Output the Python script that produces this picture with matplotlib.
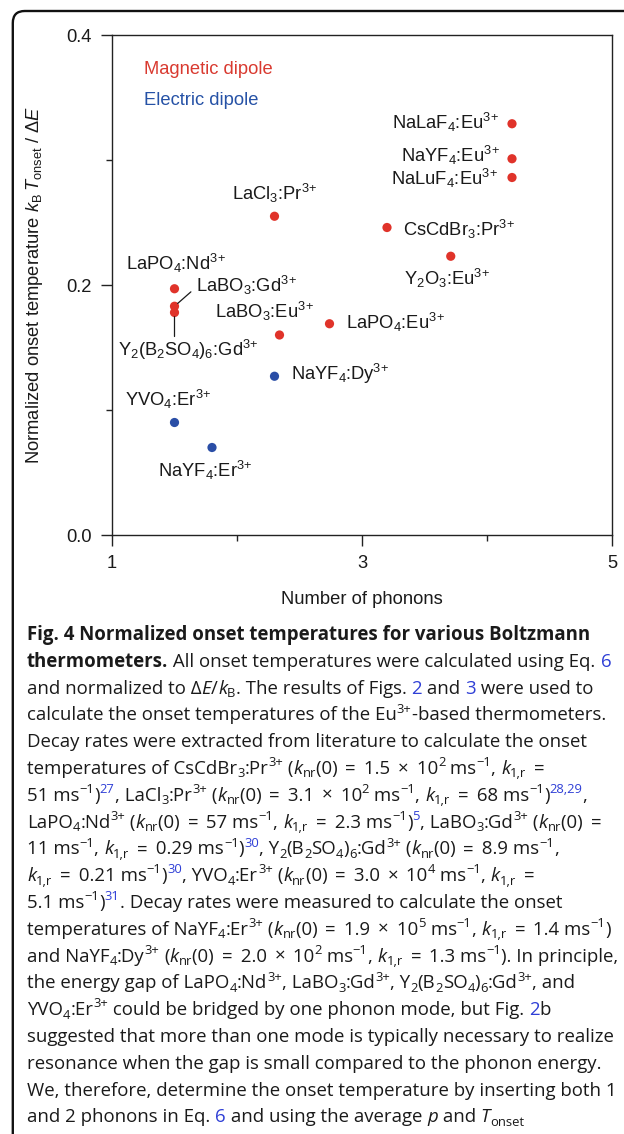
import re
import matplotlib
matplotlib.use("Agg")
import matplotlib.pyplot as plt
from matplotlib.font_manager import FontProperties
from matplotlib.patches import FancyBboxPatch

plt.rcParams['font.family'] = 'Liberation Sans'
plt.rcParams['mathtext.fontset'] = 'custom'
plt.rcParams['mathtext.rm'] = 'Liberation Sans'
plt.rcParams['mathtext.it'] = 'Liberation Sans:italic'
plt.rcParams['mathtext.bf'] = 'Liberation Sans:bold'

# --- data ---
labels = ['NaLaF$_4$:Eu$^{3\\!+}$', 'NaYF$_4$:Eu$^{3\\!+}$', 'NaLuF$_4$:Eu$^{3\\!+}$',
          'LaCl$_3$:Pr$^{3\\!+}$', 'CsCdBr$_3$:Pr$^{3\\!+}$', 'Y$_2$O$_3$:Eu$^{3\\!+}$',
          'LaPO$_4$:Nd$^{3\\!+}$', 'LaBO$_3$:Gd$^{3\\!+}$', 'Y$_2$(B$_2$SO$_4$)$_6$:Gd$^{3\\!+}$',
          'LaBO$_3$:Eu$^{3\\!+}$', 'LaPO$_4$:Eu$^{3\\!+}$', 'NaYF$_4$:Dy$^{3\\!+}$',
          'YVO$_4$:Er$^{3\\!+}$', 'NaYF$_4$:Er$^{3\\!+}$']
phonons = [4.2, 4.2, 4.2, 2.30, 3.20, 3.71, 1.5, 1.5, 1.5, 2.34, 2.74, 2.30, 1.5, 1.8]
onset = [0.329, 0.301, 0.286, 0.255, 0.246, 0.223, 0.197, 0.183, 0.178,
         0.160, 0.169, 0.127, 0.090, 0.070]
dipole = ['M'] * 11 + ['E'] * 3

xticks = [1, 3, 5]
yticks = [0.0, 0.2, 0.4]
ytick_labels = ['0.0', '0.2', '0.4']

# label placement (offset pixels from the point, horizontal alignment)
label_pos = [(-13, -5, 'right'), (-12, -3.5, 'right'), (-14, -7, 'right'),
             (-42, 16, 'left'), (16, -8.5, 'left'), (-47, -29, 'left'),
             (-49, 18.6, 'left'), (21.4, 14, 'left'), (-57, -43.3, 'left'),
             (-64.7, 16.7, 'left'), (16, -5.7, 'left'), (16.7, -4, 'left'),
             (-49.3, 16.7, 'left'), (-53.7, -29.4, 'left')]
# leader lines: point index -> end offset in pixels
leaders = {7: (16.4, 14.4), 8: (0, -24)}

RED = '#e0332a'
BLUE = '#2a4ea6'
colors = {'M': RED, 'E': BLUE}

W, H = 624, 1134
fig = plt.figure(figsize=(W / 100, H / 100), dpi=100)
ax = fig.add_axes([112 / W, 1 - 535 / H, 500 / W, 500 / H])

ax.scatter(phonons, onset, s=44, c=[colors[d] for d in dipole],
           edgecolors='none', zorder=3, clip_on=False)

fs = 13.2
for i, lab in enumerate(labels):
    dx, dy, ha = label_pos[i]
    ax.annotate(lab, (phonons[i], onset[i]), xytext=(dx, dy),
                textcoords='offset pixels', ha=ha, va='baseline',
                fontsize=fs, color='#1a1a1a')
for i, (dx, dy) in leaders.items():
    ax.annotate('', (phonons[i], onset[i]), xytext=(dx, dy),
                textcoords='offset pixels',
                arrowprops=dict(arrowstyle='-', lw=0.9, color='#1a1a1a',
                                shrinkA=0, shrinkB=3))

ax.text(0.064, 0.922, 'Magnetic dipole', transform=ax.transAxes,
        color='#d93a30', fontsize=fs, va='baseline')
ax.text(0.064, 0.860, 'Electric dipole', transform=ax.transAxes,
        color='#2652a6', fontsize=fs, va='baseline')

ax.set_xlim(1, 5)
ax.set_ylim(0, 0.4)
ax.set_xticks(xticks)
ax.set_xticks([2, 4], minor=True)
ax.set_yticks(yticks)
ax.set_yticklabels(ytick_labels)
ax.set_yticks([0.1, 0.3], minor=True)
ax.tick_params(which='both', direction='out', width=1.0, color='#222222',
               labelsize=fs, labelcolor='#1a1a1a', pad=7)
ax.tick_params(which='major', length=7.6)
ax.tick_params(which='minor', length=4)
for sp in ax.spines.values():
    sp.set_linewidth(1.0)
    sp.set_color('#222222')

ax.set_xlabel('Number of phonons', fontsize=fs, color='#1a1a1a', va='center')
ax.xaxis.set_label_coords(0.5, -0.128)
ax.set_ylabel(r'Normalized onset temperature $k_\mathrm{B}\,T_\mathrm{onset}$ / Δ$E$',
              fontsize=fs, color='#1a1a1a', va='center')
ax.yaxis.set_label_coords(-0.154, 0.5)

# frame round the panel
fig.add_artist(FancyBboxPatch((0.128, -1.0), 8.0, 12.23,
                              boxstyle='round,pad=0,rounding_size=0.12',
                              transform=fig.dpi_scale_trans, fill=False,
                              lw=1.7, ec='#111111', clip_on=False))

# --- caption ---
caption = [
    "{b:Fig. 4 Normalized onset temperatures for various Boltzmann}",
    "{b:thermometers.} All onset temperatures were calculated using Eq. {l:6}",
    "and normalized to Δ{i:E}/{i:k}{_:B}. The results of Figs. {l:2} and {l:3} were used to",
    "calculate the onset temperatures of the Eu{^:3+}-based thermometers.",
    "Decay rates were extracted from literature to calculate the onset",
    "temperatures of CsCdBr{_:3}:Pr{^:3+} ({i:k}{_:nr}(0) = 1.5 × 10{^:2} ms{^:−1}, {i:k}{_:1,r} =",
    "51 ms{^:−1}){L:27}, LaCl{_:3}:Pr{^:3+} ({i:k}{_:nr}(0) = 3.1 × 10{^:2} ms{^:−1}, {i:k}{_:1,r} = 68 ms{^:−1}){L:28,29},",
    "LaPO{_:4}:Nd{^:3+} ({i:k}{_:nr}(0) = 57 ms{^:−1}, {i:k}{_:1,r} = 2.3 ms{^:−1}){L:5}, LaBO{_:3}:Gd{^:3+} ({i:k}{_:nr}(0) =",
    "11 ms{^:−1}, {i:k}{_:1,r} = 0.29 ms{^:−1}){L:30}, Y{_:2}(B{_:2}SO{_:4}){_:6}:Gd{^:3+} ({i:k}{_:nr}(0) = 8.9 ms{^:−1},",
    "{i:k}{_:1,r} = 0.21 ms{^:−1}){L:30}, YVO{_:4}:Er{^:3+} ({i:k}{_:nr}(0) = 3.0 × 10{^:4} ms{^:−1}, {i:k}{_:1,r} =",
    "5.1 ms{^:−1}){L:31}. Decay rates were measured to calculate the onset",
    "temperatures of NaYF{_:4}:Er{^:3+} ({i:k}{_:nr}(0) = 1.9 × 10{^:5} ms{^:−1}, {i:k}{_:1,r} = 1.4 ms{^:−1})",
    "and NaYF{_:4}:Dy{^:3+} ({i:k}{_:nr}(0) = 2.0 × 10{^:2} ms{^:−1}, {i:k}{_:1,r} = 1.3 ms{^:−1}). In principle,",
    "the energy gap of LaPO{_:4}:Nd{^:3+}, LaBO{_:3}:Gd{^:3+}, Y{_:2}(B{_:2}SO{_:4}){_:6}:Gd{^:3+}, and",
    "YVO{_:4}:Er{^:3+} could be bridged by one phonon mode, but Fig. {l:2}b",
    "suggested that more than one mode is typically necessary to realize",
    "resonance when the gap is small compared to the phonon energy.",
    "We, therefore, determine the onset temperature by inserting both 1",
    "and 2 phonons in Eq. {l:6} and using the average {i:p} and {i:T}{_:onset}",
]

cap_font = 'Open Sans'
cap_size = 13.4
LINK = '#2f3fd6'
op_pad = 3.0  # extra room around = and x, as in the typeset maths
styles = {
    'n': dict(weight='normal', style='normal', scale=1.0, rise=0.0, color='#1a1a1a'),
    'b': dict(weight='bold', style='normal', scale=1.0, rise=0.0, color='#1a1a1a'),
    'i': dict(weight='normal', style='italic', scale=1.0, rise=0.0, color='#1a1a1a'),
    '_': dict(weight='normal', style='normal', scale=0.7, rise=-0.18, color='#1a1a1a'),
    '^': dict(weight='normal', style='normal', scale=0.7, rise=0.42, color='#1a1a1a'),
    'l': dict(weight='normal', style='normal', scale=1.0, rise=0.0, color=LINK),
    'L': dict(weight='normal', style='normal', scale=0.7, rise=0.42, color=LINK),
}


def split_line(line):
    segs = []
    pos = 0
    for m in re.finditer(r'\{([nbi_^lL]):([^}]*)\}', line):
        if m.start() > pos:
            segs.append((line[pos:m.start()], 'n'))
        segs.append((m.group(2), m.group(1)))
        pos = m.end()
    if pos < len(line):
        segs.append((line[pos:], 'n'))
    return segs


renderer = fig.canvas.get_renderer()


def advance(s, prop):
    w1 = renderer.get_text_width_height_descent('|' + s + '|', prop, ismath=False)[0]
    w0 = renderer.get_text_width_height_descent('||', prop, ismath=False)[0]
    return w1 - w0


x0, y0, dy = 27, 640, 26.8
em_px = cap_size / 72 * 100
for k, line in enumerate(caption):
    x = x0
    yb = y0 + k * dy
    for s, st in split_line(line):
        sty = styles[st]
        prop = FontProperties(family=cap_font, weight=sty['weight'],
                              style=sty['style'], size=cap_size * sty['scale'])
        yy = yb - sty['rise'] * em_px
        pieces = re.split(r'([=×])', s) if st == 'n' else [s]
        for p in pieces:
            if not p:
                continue
            is_op = p in ('=', '×')
            if is_op:
                x += op_pad
            fig.text(x / W, 1 - yy / H, p, fontproperties=prop, color=sty['color'],
                     ha='left', va='baseline', parse_math=False)
            x += advance(p, prop)
            if is_op:
                x += op_pad

fig.savefig('out.png', dpi=100)
